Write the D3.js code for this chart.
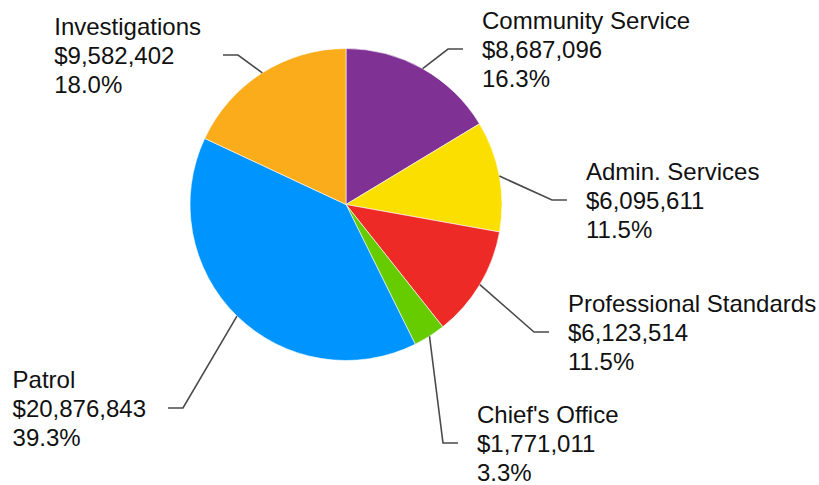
<!DOCTYPE html>
<html>
<head>
<meta charset="utf-8">
<script src="https://cdn.jsdelivr.net/npm/d3@7"></script>
<style>
  html, body { margin: 0; padding: 0; background: #fff; }
  svg { display: block; font-family: Arial, "Liberation Sans", sans-serif; }
</style>
</head>
<body>
<div id="chart"></div>
<script>
// datos: empezando en las 12 y en sentido horario
const categories = ['Community Service', 'Admin. Services', 'Professional Standards', "Chief's Office", 'Patrol', 'Investigations'];
const amounts    = [8687096, 6095611, 6123514, 1771011, 20876843, 9582402];
const colors     = ['#7f3294', '#fbdf00', '#ee2a27', '#66cc00', '#0094ff', '#faac1b'];

// codos de los conectores de etiqueta: [x, y, lado] (1 derecha, -1 izquierda)
const elbows = [[448, 49, 1], [552, 200, 1], [534, 332, 1], [443, 443, 1], [183, 408, -1], [238, 55, -1]];

const W = 819, H = 485;
const cx = 346, cy = 204.5, R = 156;

const svg = d3.select('#chart').append('svg')
  .attr('width', W).attr('height', H);

const total = d3.sum(amounts);
const fmtMoney = d3.format('$,');
const fmtPct = d3.format('.1%');

const rows = categories.map((c, i) => ({ name: c, value: amounts[i], color: colors[i] }));

const pie = d3.pie().sort(null).value(d => d.value);
const arcs = pie(rows);
const arc = d3.arc().innerRadius(0).outerRadius(R);

const g = svg.append('g').attr('transform', `translate(${cx},${cy})`);

g.selectAll('path')
  .data(arcs)
  .join('path')
    .attr('d', arc)
    .attr('fill', d => d.data.color)
    .attr('stroke', '#fff')
    .attr('stroke-width', 0.6);

// conectores + etiquetas
arcs.forEach((a, i) => {
  const mid = (a.startAngle + a.endAngle) / 2;
  const sx = cx + R * Math.sin(mid);
  const sy = cy - R * Math.cos(mid);
  const [ex, ey, side] = elbows[i];
  const endX = ex + side * 15;

  svg.append('path')
    .attr('d', `M${sx},${sy}L${ex},${ey}L${endX},${ey}`)
    .attr('fill', 'none')
    .attr('stroke', '#4a4a4a')
    .attr('stroke-width', 1.6);

  const lines = [a.data.name, fmtMoney(a.data.value), fmtPct(a.data.value / total)];
  const t = svg.append('text')
    .attr('font-size', 24)
    .attr('fill', '#111');
  lines.forEach((l, k) => {
    t.append('tspan')
      .attr('x', 0)
      .attr('y', ey + 9.3 + (k - 1) * 29)
      .text(l);
  });
  if (side > 0) {
    t.attr('transform', `translate(${endX + 19},0)`);
  } else {
    const w = t.node().getBBox().width;
    t.attr('transform', `translate(${endX - 22 - w},0)`);
  }
});
</script>
</body>
</html>
